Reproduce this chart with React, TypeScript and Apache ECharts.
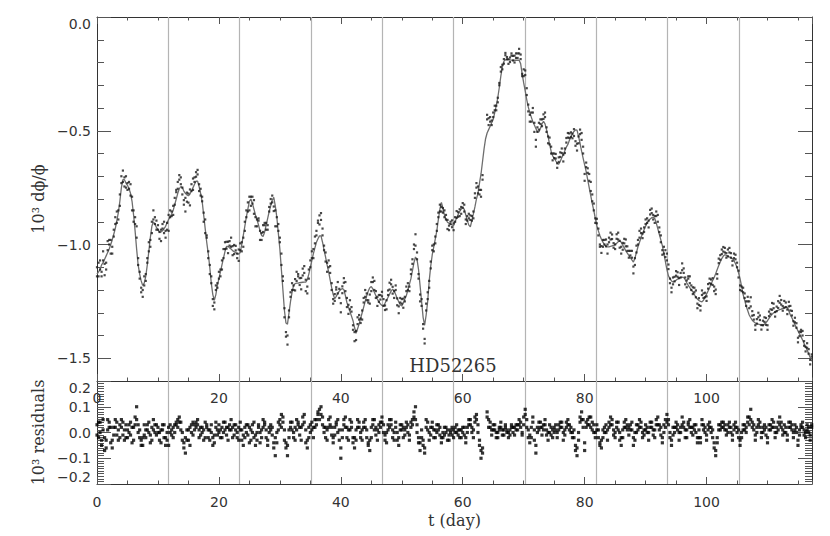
import React, { useEffect, useRef } from "react";
import * as echarts from "echarts";

// Sampling of the light curve (days)
const T_START = 0;
const T_STEP = 0.25;
const X_MIN = 0;
const X_MAX = 117.3;

// Model (smooth curve), 10^3 dphi/phi, one value per 0.25 day
const MODEL: number[] = [
  -1.13, -1.12, -1.11, -1.09, -1.08, -1.065, -1.05, -1.035, -1.02, -1.0, -0.98, -0.955, -0.93, -0.895, -0.86, -0.81, -0.75, -0.715, -0.715, -0.73,
  -0.74, -0.755, -0.775, -0.81, -0.87, -0.94, -1.02, -1.09, -1.13, -1.16, -1.18, -1.17, -1.14, -1.09, -1.03, -0.97, -0.92, -0.9, -0.91, -0.925,
  -0.935, -0.945, -0.945, -0.94, -0.93, -0.92, -0.905, -0.89, -0.88, -0.865, -0.85, -0.825, -0.8, -0.775, -0.755, -0.745, -0.75, -0.765, -0.775, -0.782,
  -0.786, -0.778, -0.765, -0.75, -0.735, -0.722, -0.722, -0.745, -0.775, -0.81, -0.87, -0.93, -0.99, -1.04, -1.1, -1.17, -1.22, -1.245, -1.22, -1.18,
  -1.15, -1.12, -1.09, -1.06, -1.03, -1.008, -1.008, -1.015, -1.02, -1.027, -1.032, -1.036, -1.04, -1.042, -1.035, -1.0, -0.96, -0.92, -0.88, -0.845,
  -0.81, -0.8, -0.82, -0.845, -0.87, -0.89, -0.915, -0.94, -0.96, -0.965, -0.945, -0.915, -0.885, -0.855, -0.83, -0.805, -0.793, -0.83, -0.88, -0.95,
  -1.02, -1.11, -1.2, -1.29, -1.345, -1.35, -1.3, -1.25, -1.21, -1.18, -1.172, -1.17, -1.17, -1.168, -1.167, -1.166, -1.165, -1.165, -1.155, -1.13,
  -1.1, -1.07, -1.04, -1.015, -0.99, -0.975, -0.962, -0.962, -0.99, -1.025, -1.055, -1.09, -1.12, -1.155, -1.19, -1.22, -1.238, -1.228, -1.215, -1.205,
  -1.198, -1.194, -1.198, -1.225, -1.255, -1.275, -1.295, -1.315, -1.335, -1.365, -1.39, -1.37, -1.35, -1.325, -1.3, -1.275, -1.25, -1.225, -1.205, -1.19,
  -1.185, -1.195, -1.21, -1.225, -1.24, -1.252, -1.262, -1.268, -1.27, -1.258, -1.245, -1.232, -1.218, -1.205, -1.196, -1.205, -1.22, -1.237, -1.252, -1.265,
  -1.27, -1.258, -1.24, -1.225, -1.2, -1.175, -1.15, -1.115, -1.08, -1.055, -1.065, -1.11, -1.18, -1.25, -1.32, -1.355, -1.31, -1.25, -1.16, -1.095,
  -1.045, -1.01, -0.975, -0.94, -0.89, -0.845, -0.815, -0.84, -0.87, -0.89, -0.902, -0.907, -0.91, -0.914, -0.917, -0.9, -0.883, -0.868, -0.855, -0.845,
  -0.838, -0.845, -0.87, -0.895, -0.915, -0.922, -0.895, -0.865, -0.835, -0.8, -0.775, -0.73, -0.69, -0.635, -0.58, -0.535, -0.51, -0.495, -0.48, -0.465,
  -0.45, -0.42, -0.39, -0.355, -0.31, -0.26, -0.22, -0.195, -0.188, -0.186, -0.186, -0.188, -0.19, -0.191, -0.19, -0.19, -0.19, -0.19, -0.205, -0.25,
  -0.29, -0.325, -0.363, -0.395, -0.42, -0.44, -0.46, -0.475, -0.49, -0.505, -0.505, -0.49, -0.47, -0.458, -0.47, -0.495, -0.525, -0.56, -0.59, -0.61,
  -0.62, -0.632, -0.643, -0.647, -0.635, -0.618, -0.605, -0.588, -0.572, -0.56, -0.542, -0.527, -0.513, -0.503, -0.496, -0.497, -0.525, -0.555, -0.59, -0.62,
  -0.65, -0.68, -0.715, -0.75, -0.785, -0.82, -0.85, -0.885, -0.917, -0.94, -0.96, -0.977, -0.99, -1.0, -1.008, -1.01, -1.01, -1.008, -1.006, -1.004,
  -1.0, -0.995, -0.988, -0.984, -0.99, -1.003, -1.015, -1.028, -1.038, -1.048, -1.058, -1.068, -1.077, -1.06, -1.035, -1.01, -0.99, -0.97, -0.952, -0.935,
  -0.92, -0.905, -0.895, -0.888, -0.882, -0.88, -0.885, -0.905, -0.93, -0.955, -0.98, -1.005, -1.04, -1.075, -1.11, -1.138, -1.15, -1.16, -1.165, -1.162,
  -1.157, -1.152, -1.148, -1.145, -1.143, -1.145, -1.155, -1.168, -1.18, -1.19, -1.2, -1.208, -1.22, -1.232, -1.24, -1.246, -1.25, -1.252, -1.245, -1.232,
  -1.218, -1.204, -1.19, -1.174, -1.158, -1.145, -1.128, -1.11, -1.092, -1.077, -1.062, -1.051, -1.045, -1.048, -1.052, -1.055, -1.058, -1.062, -1.07, -1.085,
  -1.1, -1.125, -1.15, -1.185, -1.22, -1.245, -1.27, -1.29, -1.31, -1.322, -1.333, -1.34, -1.345, -1.348, -1.35, -1.352, -1.354, -1.355, -1.35, -1.343,
  -1.335, -1.325, -1.315, -1.307, -1.3, -1.297, -1.293, -1.289, -1.286, -1.284, -1.281, -1.278, -1.275, -1.276, -1.292, -1.31, -1.322, -1.337, -1.352, -1.366,
  -1.38, -1.393, -1.405, -1.42, -1.435, -1.45, -1.464, -1.48, -1.497, -1.513,
];

// Residuals of the first exposure at each sample (observation - model); null = gap
const RESID_A: (number | null)[] = [
  0.03, -0.02, 0.04, -0.05, 0.01, -0.07, -0.03, 0.05, 0.02, -0.04, -0.06, -0.01, 0.02, 0.04, 0.01, -0.02, 0.05, 0.04, -0.03, -0.02,
  0.01, 0.03, -0.01, -0.04, 0.02, 0.06, 0.1, 0.03, -0.02, -0.03, -0.05, -0.01, 0.01, 0.03, 0.0, -0.04, 0.02, 0.05, 0.03, -0.01,
  0.0, -0.03, 0.01, 0.03, -0.02, -0.05, -0.03, 0.02, 0.0, -0.01, 0.02, 0.03, 0.04, 0.05, 0.06, 0.04, 0.0, -0.04, -0.08, -0.03,
  0.01, -0.05, 0.0, 0.04, 0.03, 0.04, 0.05, 0.01, -0.01, 0.02, -0.03, 0.04, 0.02, -0.02, 0.01, 0.03, -0.05, -0.04, 0.02, -0.01,
  0.03, 0.01, -0.02, 0.0, 0.04, 0.02, -0.03, 0.01, 0.05, 0.02, -0.01, 0.03, 0.0, -0.03, 0.04, 0.01, -0.05, -0.02, 0.03, -0.01,
  -0.04, 0.01, 0.03, -0.02, -0.05, 0.0, 0.02, -0.04, 0.01, 0.05, 0.03, -0.02, -0.05, 0.0, 0.03, 0.02, -0.06, -0.09, -0.04, 0.01,
  0.03, 0.07, 0.04, -0.03, -0.06, -0.09, -0.02, 0.02, 0.04, 0.0, -0.03, 0.05, 0.03, -0.01, 0.02, 0.06, 0.04, -0.04, -0.06, -0.02,
  0.03, 0.01, -0.02, 0.02, 0.05, 0.07, 0.09, 0.1, 0.06, 0.02, -0.02, 0.01, 0.05, 0.03, -0.01, -0.04, 0.02, 0.04, 0.0, -0.03,
  -0.1, -0.02, 0.03, 0.06, 0.02, -0.03, 0.01, 0.04, -0.02, -0.06, -0.03, 0.02, 0.04, 0.0, -0.03, 0.02, 0.05, 0.01, -0.04, -0.07,
  -0.02, 0.03, 0.05, 0.02, -0.03, 0.0, 0.04, 0.06, 0.03, -0.01, -0.04, 0.01, 0.05, 0.03, -0.02, 0.0, 0.02, -0.03, -0.05, 0.01,
  0.03, -0.02, 0.01, 0.04, 0.0, -0.03, 0.02, 0.05, 0.08, 0.1, 0.03, -0.04, -0.07, -0.02, -0.03, -0.08, 0.05, 0.01, -0.03, 0.02,
  0.04, 0.01, -0.02, 0.0, 0.03, -0.01, -0.04, -0.02, 0.02, 0.0, -0.03, -0.01, 0.01, 0.02, -0.02, 0.0, 0.03, 0.01, -0.02, 0.01,
  0.02, -0.01, -0.04, 0.0, 0.03, 0.05, 0.02, -0.02, 0.04, 0.07, 0.03, -0.05, -0.1, -0.06, null, null, 0.08, 0.05, 0.02, -0.01,
  0.03, 0.01, -0.02, 0.0, 0.02, 0.04, 0.01, -0.01, 0.02, 0.0, -0.02, 0.01, 0.03, 0.02, -0.01, 0.01, 0.03, 0.05, 0.02, 0.0,
  0.03, 0.09, 0.05, 0.01, -0.04, -0.02, 0.06, 0.01, -0.08, 0.0, 0.04, 0.02, -0.01, 0.03, 0.05, 0.01, -0.03, 0.0, 0.02, -0.02,
  0.0, 0.03, -0.02, 0.01, 0.04, 0.02, -0.03, -0.01, 0.02, 0.05, 0.03, 0.0, -0.02, 0.01, -0.05, -0.09, -0.03, 0.04, 0.08, 0.05,
  -0.07, 0.02, 0.05, 0.03, 0.06, 0.04, 0.0, -0.02, 0.03, 0.01, -0.04, -0.06, -0.02, 0.02, 0.0, -0.03, 0.04, 0.06, 0.03, 0.01,
  -0.02, 0.02, 0.04, 0.0, -0.05, -0.02, 0.02, 0.05, 0.03, -0.01, 0.01, 0.04, -0.05, -0.03, 0.0, 0.03, 0.05, 0.02, -0.02, 0.01,
  0.03, 0.0, -0.03, 0.02, 0.04, 0.01, -0.02, 0.03, 0.06, 0.03, -0.01, -0.04, 0.0, 0.05, 0.07, 0.03, -0.02, -0.05, -0.01, 0.02,
  0.04, 0.01, -0.03, 0.0, 0.06, 0.04, 0.01, -0.02, 0.03, 0.05, 0.02, -0.01, 0.03, 0.0, -0.04, -0.02, -0.04, 0.05, 0.03, 0.0,
  -0.03, 0.01, 0.04, 0.02, -0.02, -0.06, -0.09, -0.04, 0.01, 0.03, 0.02, 0.04, 0.01, -0.01, 0.03, 0.02, 0.0, -0.03, 0.01, 0.04,
  0.02, -0.02, -0.05, -0.02, 0.01, 0.03, 0.0, 0.04, 0.06, 0.09, 0.04, 0.01, -0.03, 0.02, 0.05, 0.02, -0.02, 0.0, 0.03, -0.01,
  -0.04, 0.01, 0.03, 0.05, 0.02, -0.02, 0.0, 0.04, 0.06, 0.02, -0.01, 0.03, 0.0, -0.03, 0.02, 0.04, 0.01, -0.02, 0.03, 0.0,
  -0.05, -0.01, 0.02, 0.04, 0.01, -0.02, 0.03, 0.0, -0.03, 0.02,
];

// Residuals of the second exposure at each sample; null = gap
const RESID_B: (number | null)[] = [
  -0.01, 0.04, 0.0, -0.03, 0.05, -0.02, -0.06, 0.01, 0.04, 0.02, -0.03, 0.02, 0.05, -0.01, -0.03, 0.03, 0.02, -0.01, 0.01, 0.03,
  -0.02, 0.0, 0.04, 0.02, -0.03, 0.03, 0.05, 0.0, 0.01, -0.05, -0.02, 0.03, -0.02, 0.01, 0.04, -0.01, -0.03, 0.01, 0.0, 0.03,
  0.02, 0.0, -0.04, 0.01, 0.03, -0.02, 0.0, -0.05, 0.03, 0.01, -0.02, 0.0, 0.03, 0.02, 0.04, 0.01, -0.03, -0.06, -0.02, 0.01,
  -0.03, 0.02, 0.03, -0.01, 0.01, 0.02, 0.03, -0.02, 0.02, 0.0, 0.01, -0.02, 0.03, 0.01, -0.03, 0.0, -0.02, -0.01, 0.04, 0.01,
  0.0, -0.02, 0.02, 0.04, 0.01, -0.01, 0.02, 0.03, 0.01, -0.02, 0.03, 0.01, -0.02, 0.02, 0.01, -0.03, -0.01, 0.02, 0.0, 0.03,
  0.02, -0.03, 0.0, 0.04, -0.01, -0.03, 0.03, 0.0, -0.02, 0.02, 0.04, 0.01, -0.03, 0.02, 0.01, -0.01, -0.04, -0.02, 0.0, 0.04,
  0.05, 0.02, 0.06, 0.01, -0.04, -0.05, 0.01, 0.04, 0.01, -0.02, 0.02, 0.01, 0.04, 0.02, -0.03, 0.03, 0.07, 0.01, -0.03, 0.02,
  0.0, 0.04, 0.02, 0.05, 0.03, 0.08, 0.05, 0.07, 0.03, 0.0, 0.02, -0.03, 0.02, 0.06, 0.02, -0.02, -0.01, 0.03, 0.05, 0.01,
  -0.06, 0.01, 0.05, 0.02, -0.02, 0.01, 0.05, 0.02, -0.04, -0.02, 0.01, 0.05, 0.02, -0.02, 0.01, 0.04, 0.02, -0.02, -0.05, -0.03,
  0.02, 0.05, 0.01, -0.01, 0.01, 0.03, 0.02, 0.04, 0.0, -0.03, 0.0, 0.03, 0.02, 0.05, 0.01, -0.03, 0.04, 0.0, -0.02, 0.03,
  0.01, 0.02, -0.01, 0.02, 0.03, -0.01, 0.04, 0.03, 0.06, 0.05, 0.0, -0.02, -0.04, 0.01, -0.05, -0.06, 0.02, 0.04, 0.0, -0.01,
  0.02, -0.02, 0.01, 0.03, 0.01, 0.02, -0.02, 0.0, -0.01, 0.02, 0.01, -0.03, 0.0, -0.01, 0.01, 0.02, 0.0, -0.01, 0.01, -0.02,
  0.0, 0.02, -0.02, 0.02, 0.05, 0.03, 0.0, 0.01, 0.06, 0.05, 0.0, -0.03, -0.07, -0.08, null, null, 0.06, 0.02, 0.04, 0.01,
  0.01, 0.03, 0.0, -0.02, 0.01, 0.02, -0.01, 0.01, 0.03, 0.01, 0.0, -0.01, 0.02, 0.0, 0.02, 0.03, 0.01, 0.03, 0.04, -0.01,
  0.06, 0.07, 0.02, -0.02, -0.01, 0.02, 0.04, -0.03, -0.05, 0.02, 0.01, 0.04, 0.02, 0.01, 0.03, -0.01, 0.0, 0.03, -0.01, 0.01,
  0.02, 0.01, 0.0, 0.03, 0.02, 0.04, 0.0, 0.01, 0.04, 0.03, 0.01, 0.02, 0.0, -0.02, -0.07, -0.06, 0.0, 0.06, 0.05, 0.02,
  -0.04, 0.04, 0.03, 0.06, 0.02, 0.01, 0.03, 0.0, 0.01, -0.02, -0.05, -0.03, 0.01, 0.0, 0.03, 0.01, 0.02, 0.03, 0.05, -0.01,
  0.0, 0.04, 0.01, -0.03, -0.02, 0.01, 0.04, 0.02, 0.01, 0.02, 0.03, 0.01, -0.02, 0.0, 0.03, 0.01, 0.02, 0.04, 0.0, -0.01,
  0.01, 0.02, 0.0, 0.04, 0.02, -0.01, 0.01, 0.05, 0.03, 0.01, 0.02, -0.02, 0.03, 0.02, 0.04, 0.05, 0.0, -0.03, 0.02, 0.0,
  0.02, 0.03, 0.0, 0.02, 0.03, 0.02, -0.02, 0.01, 0.04, 0.02, 0.0, 0.02, 0.01, 0.03, -0.02, 0.01, -0.02, 0.03, 0.01, 0.02,
  -0.01, 0.03, 0.02, 0.0, 0.01, -0.04, -0.07, -0.02, 0.03, 0.01, 0.04, 0.02, 0.03, 0.01, 0.0, 0.04, 0.02, -0.01, 0.03, 0.02,
  0.0, 0.01, -0.03, 0.0, 0.03, 0.01, 0.02, 0.06, 0.03, 0.05, 0.02, 0.03, -0.01, 0.0, 0.03, 0.04, 0.0, 0.02, 0.01, 0.02,
  -0.02, 0.03, 0.01, 0.02, 0.04, 0.0, 0.02, 0.01, 0.03, 0.04, 0.01, 0.0, 0.02, -0.01, 0.04, 0.02, 0.03, 0.0, 0.01, 0.02,
  -0.03, 0.01, 0.03, 0.02, -0.01, 0.0, 0.01, 0.02, -0.01, 0.03,
];

// Rotation-period markers (days)
const ROTATION_MARKS = [11.7, 23.4, 35.1, 46.8, 58.5, 70.2, 81.9, 93.6, 105.3];

// Tick labels
const X_TICKS = [0, 20, 40, 60, 80, 100];
const Y_TICKS_TOP = [-1.5, -1.0, -0.5, 0.0];
const Y_TICKS_RES = [-0.2, -0.1, 0.0, 0.1, 0.2];

const TOP_TITLE = "10\u00B3 d\u03D5/\u03D5";
const RES_TITLE = "10\u00B3 residuals";
const X_TITLE = "t (day)";
const STAR = "HD52265";

const SANS = '"DejaVu Sans", sans-serif';
const SERIF = '"DejaVu Serif", serif';
const AXIS_COLOR = "#333";
const TICK_COLOR = "#555";

const fmt1 = (v: number) => (v < -1e-9 ? "\u2212" : "") + Math.abs(v).toFixed(1);

export default function App() {
  const ref = useRef<HTMLDivElement>(null);

  useEffect(() => {
    if (!ref.current) return;
    const chart = echarts.init(ref.current, null, { renderer: "svg" });

    const tAt = (i: number) => +(T_START + i * T_STEP).toFixed(2);
    const modelData = MODEL.map((v, i) => [tAt(i), v]);
    const obsData: number[][] = [];
    const resData: number[][] = [];
    [RESID_A, RESID_B].forEach((arr) => {
      MODEL.forEach((v, i) => {
        const r = arr[i];
        if (r === null || r === undefined) return;
        obsData.push([tAt(i), +(v + r).toFixed(3)]);
        resData.push([tAt(i), r]);
      });
    });

    const labelStyle = { fontFamily: SANS, fontSize: 14, color: "#333" };

    const xBase = (grid: number, position: string) => ({
      type: "value",
      gridIndex: grid,
      position,
      min: X_MIN,
      max: X_MAX,
      splitLine: { show: false },
      axisLine: { show: true, onZero: false, lineStyle: { color: AXIS_COLOR, width: 1 } },
    });
    const xMajor = (grid: number, position: string, labels: boolean, margin: number) => ({
      ...xBase(grid, position),
      interval: 20,
      axisTick: { show: true, inside: true, length: 7, lineStyle: { color: TICK_COLOR } },
      axisLabel: {
        show: labels,
        margin,
        showMaxLabel: false,
        showMinLabel: true,
        ...labelStyle,
        formatter: (v: number) => (X_TICKS.includes(v) ? String(v) : ""),
      },
    });
    const xMinor = (grid: number, position: string) => ({
      ...xBase(grid, position),
      interval: 5,
      axisLine: { show: false, onZero: false },
      axisTick: { show: true, inside: true, length: 3.5, lineStyle: { color: TICK_COLOR } },
      axisLabel: { show: false },
    });

    const yMajor = (grid: number, position: string, min: number, max: number, ticks: number[], labels: boolean) => ({
      type: "value",
      gridIndex: grid,
      position,
      min,
      max,
      splitLine: { show: false },
      axisLine: { show: true, onZero: false, lineStyle: { color: AXIS_COLOR, width: 1 } },
      axisTick: { show: true, inside: true, length: 14, customValues: ticks, lineStyle: { color: TICK_COLOR } },
      axisLabel: {
        show: labels,
        customValues: ticks,
        margin: 6,
        ...labelStyle,
        formatter: fmt1,
        verticalAlignMaxLabel: "top",
        verticalAlignMinLabel: grid === 1 ? "bottom" : undefined,
      },
    });
    const yMinor = (grid: number, position: string, min: number, max: number, interval: number) => ({
      type: "value",
      gridIndex: grid,
      position,
      min,
      max,
      interval,
      splitLine: { show: false },
      axisLine: { show: false, onZero: false },
      axisTick: { show: true, inside: true, length: 7, lineStyle: { color: TICK_COLOR } },
      axisLabel: { show: false },
    });

    const markLine = {
      silent: true,
      symbol: ["none", "none"],
      label: { show: false },
      lineStyle: { color: "#b4b4b4", width: 1.2, type: "solid" },
      data: ROTATION_MARKS.map((v) => ({ xAxis: v })),
      animation: false,
    };

    const titleStyle = { fontFamily: SERIF, fontSize: 16, color: "#333" };

    const option: any = {
      animation: false,
      backgroundColor: "#fff",
      grid: [
        { left: 97, right: 18, top: 17, height: 364 },
        { left: 97, right: 18, top: 381, height: 103 },
      ],
      xAxis: [
        xMajor(0, "bottom", true, 10),
        xMinor(0, "bottom"),
        xMajor(0, "top", false, 0),
        xMinor(0, "top"),
        {
          ...xMajor(1, "bottom", true, 11),
          name: X_TITLE,
          nameLocation: "middle",
          nameGap: 28,
          nameTextStyle: titleStyle,
        },
        xMinor(1, "bottom"),
      ],
      yAxis: [
        {
          ...yMajor(0, "left", -1.6, 0, Y_TICKS_TOP, true),
          name: TOP_TITLE,
          nameLocation: "middle",
          nameGap: 51,
          nameTextStyle: titleStyle,
        },
        yMinor(0, "left", -1.6, 0, 0.1),
        yMajor(0, "right", -1.6, 0, Y_TICKS_TOP, false),
        yMinor(0, "right", -1.6, 0, 0.1),
        {
          ...yMajor(1, "left", -0.2, 0.2, Y_TICKS_RES, true),
          name: RES_TITLE,
          nameLocation: "middle",
          nameGap: 51,
          nameTextStyle: titleStyle,
        },
        yMinor(1, "left", -0.2, 0.2, 0.01),
        yMajor(1, "right", -0.2, 0.2, Y_TICKS_RES, false),
        yMinor(1, "right", -0.2, 0.2, 0.01),
      ],
      series: [
        {
          name: "model",
          type: "line",
          xAxisIndex: 0,
          yAxisIndex: 0,
          data: modelData,
          showSymbol: false,
          smooth: false,
          z: 6,
          lineStyle: { color: "#6e6e6e", width: 1.3 },
          markLine,
        },
        {
          name: "observed",
          type: "scatter",
          xAxisIndex: 0,
          yAxisIndex: 0,
          data: obsData,
          symbol: "rect",
          symbolSize: 2.2,
          z: 10,
          itemStyle: { color: "#1a1a1a" },
        },
        {
          name: "residuals",
          type: "scatter",
          xAxisIndex: 4,
          yAxisIndex: 4,
          data: resData,
          symbol: "rect",
          symbolSize: 3.2,
          z: 10,
          itemStyle: { color: "#000" },
          markLine,
        },
      ],
      graphic: [
        {
          type: "text",
          x: 453,
          y: 365,
          z: 20,
          style: {
            text: STAR,
            font: '18px "DejaVu Serif", serif',
            fill: "#333",
            textAlign: "center",
            textVerticalAlign: "middle",
          },
        },
      ],
    };

    chart.setOption(option);
    return () => chart.dispose();
  }, []);

  return (
    <div
      ref={ref}
      style={{ position: "fixed", left: 0, top: 0, width: 830, height: 536, background: "#fff" }}
    />
  );
}
